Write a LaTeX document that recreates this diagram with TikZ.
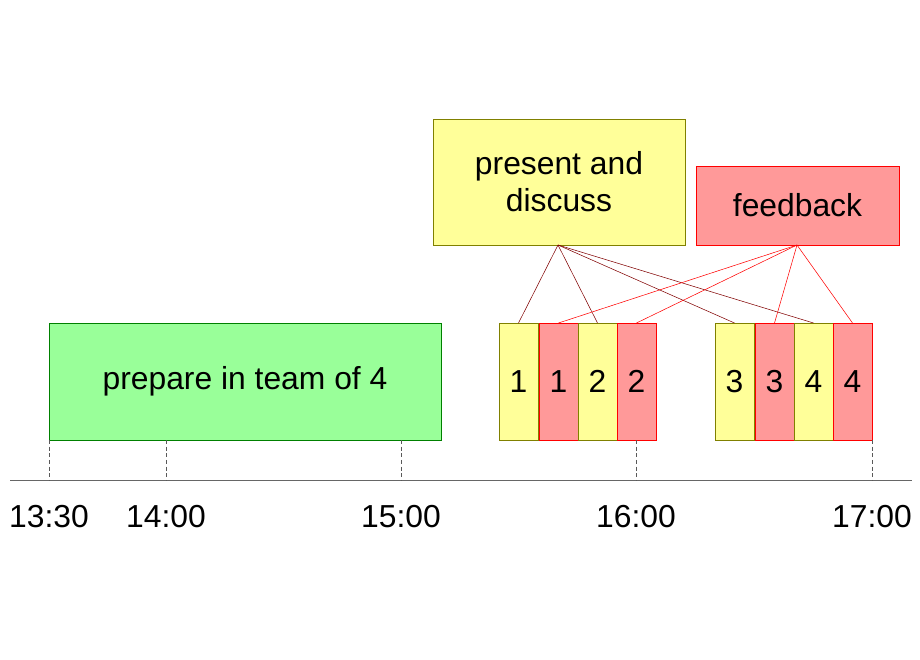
\documentclass[tikz,border=0pt]{standalone}
\usepackage{fontspec}
\setmainfont{Liberation Sans}
\definecolor{lgreen}{HTML}{99FF99}
\definecolor{lyellow}{HTML}{FFFF99}
\definecolor{lred}{HTML}{FF9999}
\definecolor{dyellow}{HTML}{808000}
\definecolor{dred}{HTML}{800000}
\tikzset{
  block/.style={draw, inner sep=0pt, font=\fontsize{24}{28}\selectfont},
  talk/.style={block, fill=lyellow, draw=dyellow},
  fb/.style={block, fill=lred, draw=red},
  tick/.style={densely dashed, gray!70!black}
}
\begin{document}
\begin{tikzpicture}[x=0.0265cm, y=-0.0265cm]
    \useasboundingbox (0,0) rectangle (920,660);

    %boxes:
    \draw[block, fill=lgreen, draw=green!50!black] (49,323) rectangle node (prep) {prepare in team of 4} (441,440);
    \draw[talk] (433,119) rectangle node[align=center] (pres) {present and\\discuss} (685,245);
    \draw[fb] (696,166) rectangle node (feed) {feedback} (899,245);
    \coordinate (presb) at (558,245);
    \coordinate (feedb) at (797,245);

    %slots:
    \foreach \n/\x/\s in {1/499/talk, 1/539/fb, 2/578/talk, 2/617/fb,
                          3/715/talk, 3/755/fb, 4/794/talk, 4/833/fb} {
        \draw[\s] (\x,323) rectangle node {\n} ++(39,117);
        \coordinate (top\x) at (\x+19.5,323);
    }

    %connectors:
    \foreach \x in {499,578,715,794} \draw[dred] (presb) -- (top\x);
    \foreach \x in {539,617,755,833} \draw[red] (feedb) -- (top\x);

    %time axis:
    \draw[gray!80!black] (10,480) -- (912,480);
    \foreach \x in {49,166,401} \draw[tick] (\x,440) -- (\x,480);
    \foreach \x in {636,872} \draw[tick] (\x,440) -- (\x,480);
    \foreach \x/\t in {49/13:30, 166/14:00, 401/15:00, 636/16:00, 872/17:00}
        \node[font=\fontsize{24}{28}\selectfont] (t\x) at (\x,517) {\t};

\end{tikzpicture}
\end{document}
